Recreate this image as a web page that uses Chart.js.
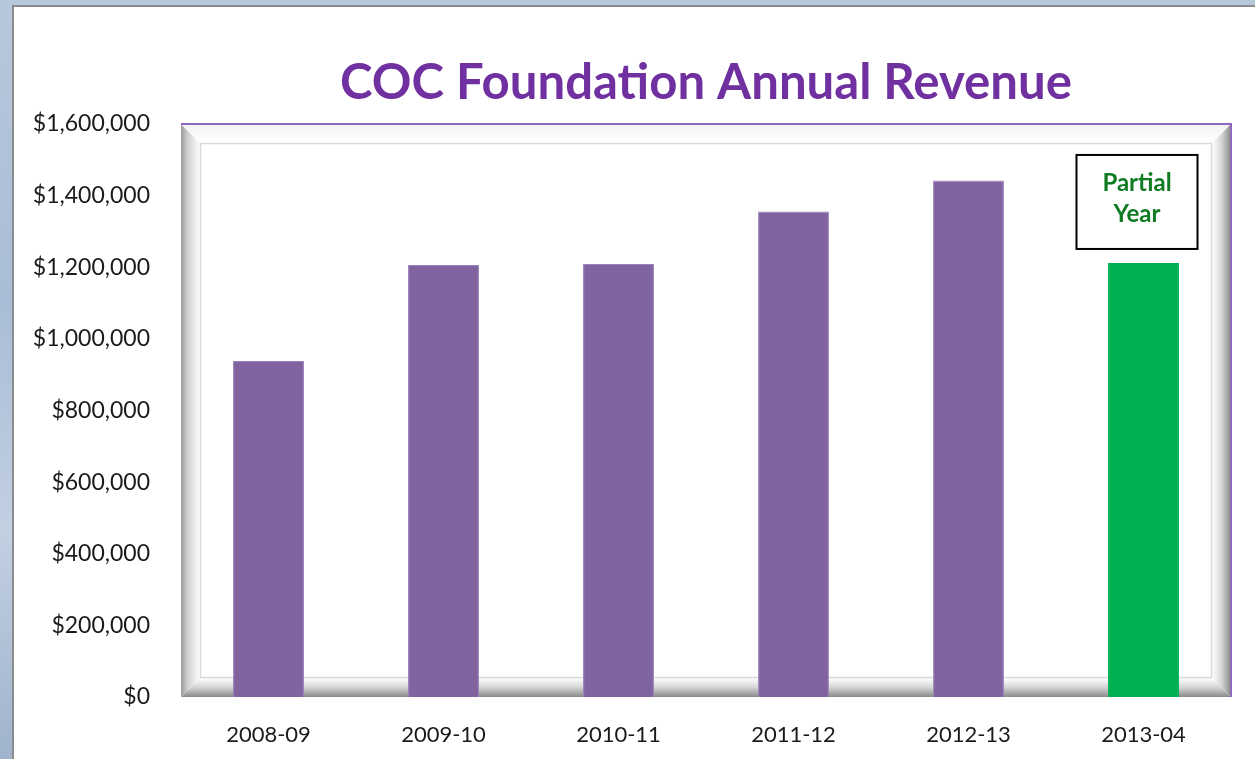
<!DOCTYPE html>
<html>
<head>
<meta charset="utf-8">
<script src="https://cdn.jsdelivr.net/npm/chart.js@4.4.1/dist/chart.umd.min.js"></script>
<style>
  html, body { margin:0; padding:0; width:1255px; height:759px; overflow:hidden;
    background: linear-gradient(180deg, #b8c8dc 0%, #a9bdd6 40%, #c2d0e2 70%, #9fb3cc 100%); }
  #panel { position:absolute; left:12px; top:5px; right:0; bottom:0; background:#fff;
    border-left:2px solid #8c8c8c; border-top:2px solid #8c8c8c; }
  #wrap { position:absolute; left:0; top:0; width:1255px; height:759px; overflow:hidden; }
</style>
</head>
<body>
<div id="panel"></div>
<div id="wrap"><canvas id="c" width="1255" height="771"></canvas></div>
<script>
const titleText = "COC Foundation Annual Revenue";
const categories = ["2008-09", "2009-10", "2010-11", "2011-12", "2012-13", "2013-04"];
const revenue = [938000, 1206000, 1209000, 1356000, 1442000, 1212000];
const barColors = ["#8064A2", "#8064A2", "#8064A2", "#8064A2", "#8064A2", "#00B050"];
const yMin = 0, yMax = 1600000, yStep = 200000;
const noteLines = ["Partial", "Year"];

const framePlugin = {
  id: 'frame',
  beforeDatasetsDraw(chart) {
    const ctx = chart.ctx, a = chart.chartArea;
    const L = a.left, T = a.top, R = a.right, B = a.bottom;
    const li = L + 19, ti = T + 19, ri = R - 19, bi = B - 19;
    ctx.save();
    let g = ctx.createLinearGradient(L, 0, li, 0);
    g.addColorStop(0, '#9a9a9a'); g.addColorStop(0.35, '#d0d0d0'); g.addColorStop(1, '#ffffff');
    ctx.fillStyle = g;
    ctx.beginPath(); ctx.moveTo(L, T); ctx.lineTo(li, ti); ctx.lineTo(li, bi); ctx.lineTo(L, B); ctx.closePath(); ctx.fill();
    g = ctx.createLinearGradient(0, T, 0, ti);
    g.addColorStop(0, '#f2f2f2'); g.addColorStop(1, '#ffffff');
    ctx.fillStyle = g;
    ctx.beginPath(); ctx.moveTo(L, T); ctx.lineTo(R, T); ctx.lineTo(ri, ti); ctx.lineTo(li, ti); ctx.closePath(); ctx.fill();
    g = ctx.createLinearGradient(ri, 0, R, 0);
    g.addColorStop(0, '#ffffff'); g.addColorStop(0.5, '#d6d6d6'); g.addColorStop(1, '#8a8a8a');
    ctx.fillStyle = g;
    ctx.beginPath(); ctx.moveTo(R, T); ctx.lineTo(R, B); ctx.lineTo(ri, bi); ctx.lineTo(ri, ti); ctx.closePath(); ctx.fill();
    g = ctx.createLinearGradient(0, bi, 0, B);
    g.addColorStop(0, '#ffffff'); g.addColorStop(0.5, '#d4d4d4'); g.addColorStop(1, '#8a8a8a');
    ctx.fillStyle = g;
    ctx.beginPath(); ctx.moveTo(L, B); ctx.lineTo(li, bi); ctx.lineTo(ri, bi); ctx.lineTo(R, B); ctx.closePath(); ctx.fill();
    ctx.strokeStyle = '#d9d9d9'; ctx.lineWidth = 1.5;
    ctx.strokeRect(li + 0.5, ti + 0.5, ri - li - 1, bi - ti - 1);
    ctx.strokeStyle = '#8e68bf'; ctx.lineWidth = 2;
    ctx.beginPath(); ctx.moveTo(L, T); ctx.lineTo(R, T); ctx.lineTo(R, B); ctx.stroke();
    ctx.restore();
  },
  afterDraw(chart) {
    const ctx = chart.ctx, a = chart.chartArea;
    const x = chart.scales.x, y = chart.scales.y;
    ctx.save();
    let size = 52;
    ctx.font = `bold ${size}px Lato`;
    const w = ctx.measureText(titleText).width;
    size = size * 732 / w;
    ctx.font = `bold ${size}px Lato`;
    ctx.fillStyle = '#7030A0';
    ctx.textAlign = 'center'; ctx.textBaseline = 'alphabetic';
    ctx.fillText(titleText, (a.left + a.right) / 2, 99);
    // Partial Year note box above last bar
    const cx = x.getPixelForValue(categories.length - 1) - 6.5;
    const bw = 121, bh = 94;
    const top = y.getPixelForValue(revenue[revenue.length - 1]) - 14 - bh;
    ctx.fillStyle = '#ffffff';
    ctx.fillRect(cx - bw / 2, top, bw, bh);
    ctx.strokeStyle = '#000000'; ctx.lineWidth = 2;
    ctx.strokeRect(cx - bw / 2, top, bw, bh);
    ctx.fillStyle = '#0F7B22';
    ctx.font = 'bold 24px Lato';
    ctx.textBaseline = 'middle';
    ctx.fillText(noteLines[0], cx, top + 28);
    ctx.fillText(noteLines[1], cx, top + 59);
    ctx.restore();
  }
};

new Chart(document.getElementById('c'), {
  type: 'bar',
  data: {
    labels: categories,
    datasets: [{
      data: revenue,
      backgroundColor: barColors,
      borderColor: barColors.map(c => c === '#8064A2' ? '#9a82b8' : '#00B050'),
      borderWidth: 1,
      barPercentage: 0.405,
      categoryPercentage: 1.0
    }]
  },
  plugins: [framePlugin],
  options: {
    responsive: false,
    animation: false,
    events: [],
    layout: { padding: { top: 124, right: 24, bottom: 0, left: 0 } },
    plugins: { legend: { display: false }, title: { display: false }, tooltip: { enabled: false } },
    scales: {
      x: {
        grid: { display: false, drawTicks: false },
        border: { display: false },
        ticks: { color: '#1a1a1a', font: { family: 'Lato', size: 22 }, padding: 25, maxRotation: 0 },
        afterFit(scale) { scale.height = 74; }
      },
      y: {
        min: yMin, max: yMax,
        grid: { display: false, drawTicks: false },
        border: { display: false },
        ticks: {
          stepSize: yStep,
          color: '#1a1a1a',
          font: { family: 'Lato', size: 23 },
          padding: 31,
          callback: v => '$' + Number(v).toLocaleString('en-US')
        },
        afterFit(scale) { scale.width = 181; }
      }
    }
  }
});
</script>
</body>
</html>
